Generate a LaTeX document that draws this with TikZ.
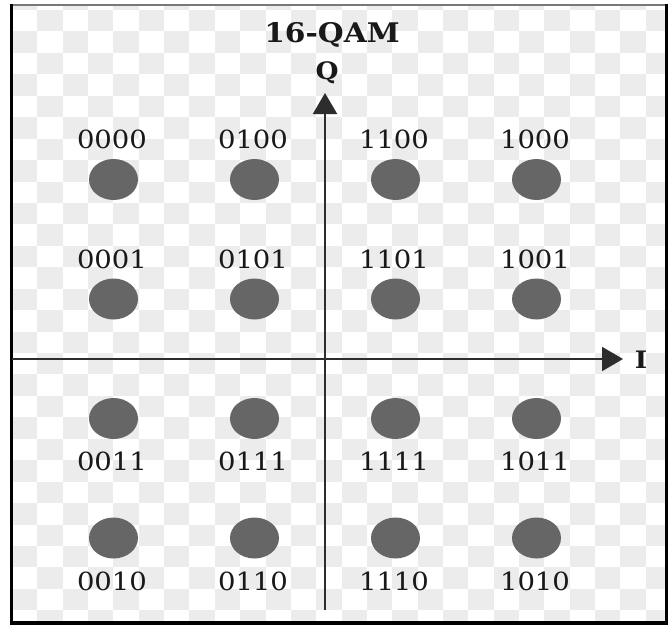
\documentclass[tikz,border=0pt]{standalone}
\usepackage{fontspec}
\setmainfont{DejaVu Serif}
\usetikzlibrary{arrows.meta,shapes.geometric}
\definecolor{checkgray}{RGB}{236,236,236}
\definecolor{dotgray}{RGB}{102,102,102}
\definecolor{axisgray}{RGB}{45,45,45}
\definecolor{txt}{RGB}{25,25,25}
\definecolor{topline}{RGB}{120,120,120}
\tikzset{
  dotshape/.style={ellipse, minimum width=49pt, minimum height=41pt, fill=dotgray, draw=none, inner sep=0pt},
  bitlabel/.style={anchor=base, inner sep=0pt, text=txt, font=\fontsize{25}{25}\selectfont},
  axisline/.style={draw=axisgray, line width=2pt, -{Triangle[length=21pt, width=24pt]}},
  axislabel/.style={anchor=base, inner sep=0pt, text=txt, font=\bfseries\fontsize{24}{24}\selectfont},
}
\begin{document}
\begin{tikzpicture}[x=1pt, y=-1pt]
\useasboundingbox (0,0) rectangle (671,626);
\fill[white] (0,0) rectangle (671,626);
% checkerboard background
\begin{scope}
\clip (12,5) rectangle (666,623);
\foreach \i in {0,...,26}{
  \foreach \j in {-1,...,29}{
    \pgfmathtruncatemacro\cpar{mod(\i+\j+100,2)}
    \ifnum\cpar=1
      \fill[checkgray] ({12+25.35*\i},{10+21.44*\j}) rectangle ({12+25.35*(\i+1)},{10+21.44*(\j+1)});
    \fi
  }
}
\end{scope}
% frame
\draw[topline, line width=1.5pt] (11.5,5) -- (666.5,5);
\draw[black, line width=3.5pt] (11.5,4) -- (11.5,623) -- (666.5,623) -- (666.5,4);
% axes
\coordinate (qbot) at (325,610);
\coordinate (qtop) at (325,93);
\coordinate (ileft) at (12,359);
\coordinate (iright) at (623,359);
\draw[axisline] (qbot) -- (qtop);
\draw[axisline] (ileft) -- (iright);
% titles
\node[anchor=base, inner sep=0pt, text=txt, font=\bfseries\fontsize{27}{27}\selectfont] (title) at (332,42) {\scalebox{1.1}[1]{16-QAM}};
\node[axislabel] (qlab) at (327,79) {\scalebox{1.1}[1]{Q}};
\node[axislabel] (ilab) at (641,368) {\scalebox{1.1}[1]{I}};
% constellation
\foreach \name/\cx/\cy/\bits/\ly in {
  a/113.5/179.5/0000/148.5, b/254.5/179.5/0100/148.5, c/395.5/179.5/1100/148.5, d/536.5/179.5/1000/148.5,
  e/113.5/299/0001/268, f/254.5/299/0101/268, g/395.5/299/1101/268, h/536.5/299/1001/268,
  i/113.5/418.5/0011/470, j/254.5/418.5/0111/470, k/395.5/418.5/1111/470, l/536.5/418.5/1011/470,
  m/113.5/538/0010/590, n/254.5/538/0110/590, o/395.5/538/1110/590, p/536.5/538/1010/590}{
  \node[dotshape] (dot\name) at (\cx,\cy) {};
  \node[bitlabel] (lab\name) at (\cx-1.5,\ly) {\scalebox{1.1}[1]{\bits}};
}
\end{tikzpicture}
\end{document}
